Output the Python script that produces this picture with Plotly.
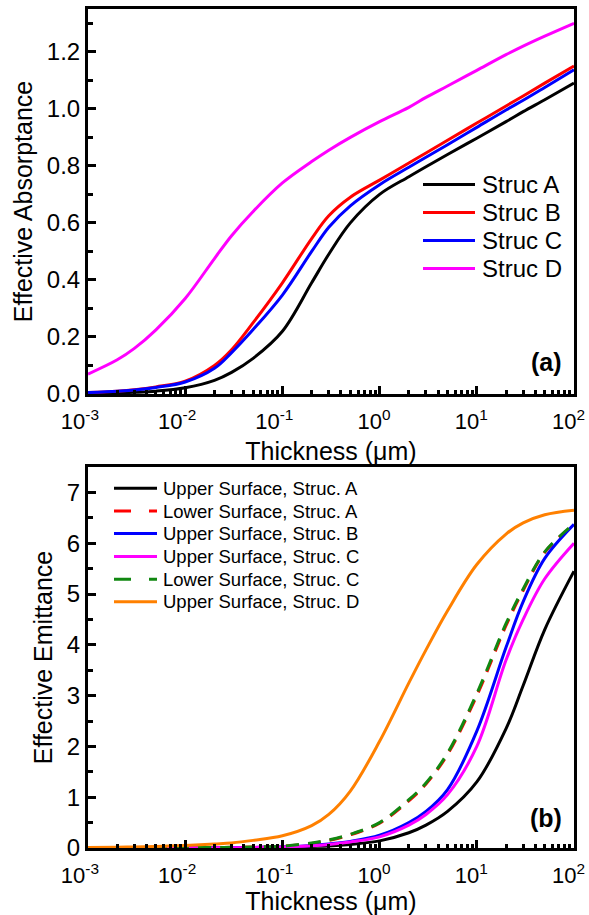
import plotly.graph_objects as go

# ---------------- data ----------------
thickness = [0.001, 0.002, 0.003, 0.005, 0.01, 0.02, 0.03, 0.05, 0.1, 0.2, 0.3,
             0.5, 1, 2, 3, 5, 10, 20, 30, 50, 100]

x_tickvals = [0.001, 0.01, 0.1, 1, 10, 100]
x_ticktext = ["10<sup>-3</sup>", "10<sup>-2</sup>", "10<sup>-1</sup>",
              "10<sup>0</sup>", "10<sup>1</sup>", "10<sup>2</sup>"]

# panel (a): effective absorptance
abs_A = [0.002, 0.004, 0.006, 0.010, 0.022, 0.048, 0.076, 0.125, 0.22, 0.39, 0.49,
         0.60, 0.70, 0.762, 0.797, 0.84, 0.897, 0.955, 0.99, 1.032, 1.09]
abs_B = [0.005, 0.010, 0.015, 0.025, 0.045, 0.10, 0.155, 0.25, 0.39, 0.545, 0.625,
         0.69, 0.75, 0.81, 0.845, 0.89, 0.95, 1.01, 1.045, 1.09, 1.15]
abs_C = [0.005, 0.010, 0.014, 0.023, 0.042, 0.09, 0.145, 0.226, 0.347, 0.50, 0.585,
         0.66, 0.734, 0.795, 0.83, 0.874, 0.935, 0.996, 1.03, 1.075, 1.137]
abs_D = [0.07, 0.12, 0.16, 0.225, 0.335, 0.475, 0.555, 0.64, 0.74, 0.815, 0.855,
         0.90, 0.955, 1.005, 1.04, 1.08, 1.135, 1.19, 1.22, 1.255, 1.30]
abs_names = ["Struc A", "Struc B", "Struc C", "Struc D"]

# panel (b): effective emittance
em_upper_A = [0, 0, 0, 0.001, 0.002, 0.004, 0.006, 0.01, 0.015, 0.03, 0.04,
              0.07, 0.14, 0.30, 0.45, 0.72, 1.30, 2.35, 3.20, 4.30, 5.45]
em_lower_A = [0, 0.001, 0.002, 0.003, 0.006, 0.01, 0.013, 0.02, 0.035, 0.09, 0.15,
              0.26, 0.49, 0.93, 1.26, 1.84, 3.00, 4.38, 5.07, 5.82, 6.37]
em_upper_B = [0, 0, 0.001, 0.002, 0.003, 0.005, 0.008, 0.012, 0.02, 0.05, 0.08,
              0.13, 0.25, 0.50, 0.72, 1.15, 2.30, 3.95, 4.85, 5.70, 6.37]
em_upper_C = [0, 0, 0.001, 0.002, 0.003, 0.005, 0.007, 0.011, 0.02, 0.045, 0.07,
              0.12, 0.22, 0.45, 0.66, 1.05, 2.00, 3.70, 4.50, 5.30, 6.00]
em_lower_C = [0, 0.001, 0.002, 0.003, 0.006, 0.01, 0.014, 0.02, 0.035, 0.10, 0.16,
              0.27, 0.50, 0.95, 1.28, 1.87, 3.04, 4.42, 5.10, 5.83, 6.38]
em_upper_D = [0.01, 0.015, 0.02, 0.03, 0.05, 0.08, 0.10, 0.15, 0.24, 0.44, 0.66,
              1.12, 2.10, 3.25, 3.90, 4.67, 5.58, 6.18, 6.40, 6.56, 6.65]
em_names = ["Upper Surface, Struc. A", "Lower Surface, Struc. A",
            "Upper Surface, Struc. B", "Upper Surface, Struc. C",
            "Lower Surface, Struc. C", "Upper Surface, Struc. D"]

# ---------------- geometry (pixels) ----------------
W, H = 589, 915
ML, MR, MT, MB = 88, 15, 9, 67
PW, PH = W - ML - MR, H - MT - MB


def px(x):
    return (x - ML) / PW


def py(y):
    return (H - MB - y) / PH


FONT = "Liberation Sans, Arial, sans-serif"
fig = go.Figure()

abs_series = [abs_A, abs_B, abs_C, abs_D]
abs_colors = ["#000000", "#ff0000", "#0000ff", "#ff00ff"]
for name, ys, col in zip(abs_names, abs_series, abs_colors):
    fig.add_trace(go.Scatter(x=thickness, y=ys, name=name, mode="lines", showlegend=False,
                             line=dict(color=col, width=3, shape="spline", smoothing=1),
                             xaxis="x", yaxis="y"))

em_series = [em_upper_A, em_lower_A, em_upper_B, em_upper_C, em_lower_C, em_upper_D]
em_colors = ["#000000", "#ff0000", "#0000ff", "#ff00ff", "#118811", "#ff8000"]
em_dash = ["solid", "13px,9px", "solid", "solid", "13px,9px", "solid"]
for name, ys, col, dsh in zip(em_names, em_series, em_colors, em_dash):
    fig.add_trace(go.Scatter(x=thickness, y=ys, name=name, mode="lines", showlegend=False,
                             line=dict(color=col, width=3, dash=dsh, shape="spline", smoothing=1),
                             xaxis="x2", yaxis="y2"))

xcommon = dict(type="log", range=[-3, 2], tickvals=x_tickvals, ticktext=x_ticktext,
               ticks="inside", ticklen=8, tickwidth=3, tickcolor="black",
               ticklabelposition="outside left", ticklabelshift=14, ticklabelstandoff=6,
               showline=True, linewidth=3, linecolor="black", mirror=True,
               showgrid=False, zeroline=False, automargin=False,
               tickfont=dict(family=FONT, size=22, color="black"),
               minor=dict(dtick="D1", ticks="inside", ticklen=4, tickwidth=3,
                          tickcolor="black", showgrid=False),
               title=dict(text="Thickness (μm)", font=dict(family=FONT, size=25, color="black"),
                          standoff=10))
ycommon = dict(ticks="inside", ticklen=8, tickwidth=3, tickcolor="black",
               showline=True, linewidth=3, linecolor="black", mirror=True,
               showgrid=False, zeroline=False, automargin=False,
               tickfont=dict(family=FONT, size=24, color="black"))

# custom legends (line sample + text), pixel positions from the reference
shapes = []
annotations = []
leg_a_rows = [184.5, 212.5, 240.5, 268.5]
for name, col, yy in zip(abs_names, abs_colors, leg_a_rows):
    shapes.append(dict(type="line", xref="paper", yref="paper",
                       x0=px(423), x1=px(475), y0=py(yy), y1=py(yy),
                       line=dict(color=col, width=3)))
    annotations.append(dict(text=name, xref="paper", yref="paper", x=px(480), y=py(yy),
                            xanchor="left", yanchor="middle", showarrow=False,
                            font=dict(family=FONT, size=24, color="black")))

leg_b_rows = [488.3, 511.0, 533.5, 556.5, 579.2, 601.8]
leg_b_dash = ["solid", "17px,18px", "solid", "solid", "17px,18px", "solid"]
for name, col, dsh, yy in zip(em_names, em_colors, leg_b_dash, leg_b_rows):
    shapes.append(dict(type="line", xref="paper", yref="paper",
                       x0=px(114), x1=px(157), y0=py(yy), y1=py(yy),
                       line=dict(color=col, width=3, dash=dsh)))
    annotations.append(dict(text=name, xref="paper", yref="paper", x=px(161), y=py(yy),
                            xanchor="left", yanchor="middle", showarrow=False,
                            font=dict(family=FONT, size=18.5, color="black")))

annotations.append(dict(text="<b>(a)</b>", xref="paper", yref="paper", x=px(546), y=py(362),
                        xanchor="center", yanchor="middle", showarrow=False,
                        font=dict(family=FONT, size=25, color="black")))
annotations.append(dict(text="<b>(b)</b>", xref="paper", yref="paper", x=px(546), y=py(818),
                        xanchor="center", yanchor="middle", showarrow=False,
                        font=dict(family=FONT, size=25, color="black")))

fig.update_layout(
    width=W, height=H,
    margin=dict(l=ML, r=MR, t=MT, b=MB, autoexpand=False),
    paper_bgcolor="white", plot_bgcolor="white",
    showlegend=False,
    xaxis=dict(xcommon, anchor="y", domain=[0, 1]),
    yaxis=dict(ycommon, anchor="x", domain=[py(394), 1], range=[0, 1.35], dtick=0.2, tick0=0,
               tickformat=".1f",
               minor=dict(dtick=0.1, ticks="inside", ticklen=5, tickwidth=3, tickcolor="black"),
               title=dict(text="Effective Absorptance",
                          font=dict(family=FONT, size=25, color="black"), standoff=8)),
    xaxis2=dict(xcommon, anchor="y2", domain=[0, 1]),
    yaxis2=dict(ycommon, anchor="x2", domain=[0, py(467)], range=[0, 7.5], dtick=1, tick0=0,
                minor=dict(dtick=0.5, ticks="inside", ticklen=5, tickwidth=3, tickcolor="black"),
                title=dict(text="Effective Emittance",
                           font=dict(family=FONT, size=25, color="black"), standoff=8)),
    shapes=shapes,
    annotations=annotations,
)

fig.write_html("out.html", config={"displayModeBar": False},
               post_script="document.body.style.margin='0px';document.body.style.overflow='hidden';")
